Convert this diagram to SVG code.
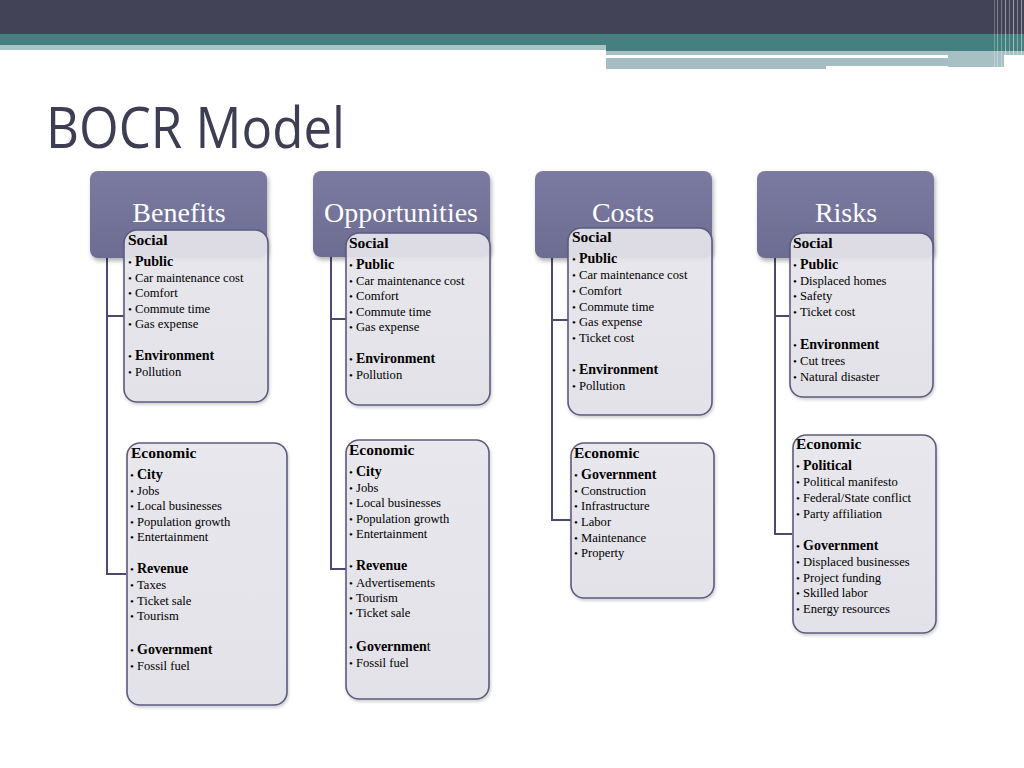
<svg xmlns="http://www.w3.org/2000/svg" width="1024" height="768" viewBox="0 0 1024 768">
<defs>
<linearGradient id="hg" x1="0" y1="0" x2="0" y2="1"><stop offset="0" stop-color="#7b7aa1"/><stop offset="1" stop-color="#6d6c92"/></linearGradient>
<linearGradient id="cg" x1="0" y1="0" x2="0" y2="1"><stop offset="0" stop-color="#e9e8ee"/><stop offset="1" stop-color="#e3e2e9"/></linearGradient>
<filter id="sh" x="-10%" y="-10%" width="130%" height="140%"><feDropShadow dx="1.5" dy="3" stdDeviation="2" flood-color="#000" flood-opacity="0.3"/></filter>
<filter id="sh2" x="-10%" y="-10%" width="130%" height="130%"><feDropShadow dx="1" dy="2" stdDeviation="1.5" flood-color="#000" flood-opacity="0.2"/></filter>
</defs>
<style>
.hd{fill:url(#hg);filter:url(#sh)}
.ht{font-family:"Liberation Serif",serif;font-size:28px;fill:#fff;text-anchor:middle}
.cb{fill:url(#cg);fill-opacity:0.9;stroke:#5c5b80;stroke-width:1.6;filter:url(#sh2)}
.sec{font-family:"Liberation Serif",serif;font-size:15.5px;font-weight:bold;fill:#000}
.t{font-family:"Liberation Serif",serif;font-size:12.6px;fill:#000}
.h{font-family:"Liberation Serif",serif;font-size:14px;font-weight:bold;fill:#000}
.b{font-size:11px;font-weight:normal}
.con{fill:none;stroke:#4b4a6e;stroke-width:2}
.ttl{font-family:"Open Sans","DejaVu Sans",sans-serif;font-size:56px;fill:#3e3e52}
</style>
<rect width="1024" height="768" fill="#fff"/>
<g id="banner">
<rect x="0" y="0" width="1024" height="34" fill="#434357"/>
<rect x="0" y="34" width="606" height="11" fill="#44807f"/>
<rect x="606" y="34" width="418" height="17" fill="#44807f"/>
<rect x="0" y="45" width="606" height="5" fill="#a9c5c6"/>
<rect x="606" y="51" width="418" height="4" fill="#a7c0c4"/>
<rect x="606" y="55" width="342" height="3" fill="#ffffff"/>
<rect x="948" y="55" width="56" height="12" fill="#a7c0c4"/>
<rect x="606" y="58" width="220" height="11" fill="#a6bdc4"/>
<rect x="826" y="58" width="122" height="8" fill="#a6bdc4"/>
<g stroke="#ffffff" stroke-width="1">
<line x1="994.5" y1="0" x2="994.5" y2="68" stroke-opacity="0.25"/>
<line x1="997.5" y1="0" x2="997.5" y2="68" stroke-opacity="0.35"/>
<line x1="1001.5" y1="0" x2="1001.5" y2="68" stroke-opacity="0.3"/>
<line x1="1005.5" y1="0" x2="1005.5" y2="68" stroke-opacity="0.45"/>
<line x1="1009.5" y1="0" x2="1009.5" y2="68" stroke-opacity="0.3"/>
<line x1="1013.5" y1="0" x2="1013.5" y2="68" stroke-opacity="0.5"/>
<line x1="1017.5" y1="0" x2="1017.5" y2="68" stroke-opacity="0.35"/>
<line x1="1021.5" y1="0" x2="1021.5" y2="68" stroke-opacity="0.45"/>
</g>
</g>
<text id="title" class="ttl" x="46" y="148" textLength="299" lengthAdjust="spacingAndGlyphs">BOCR Model</text>

<g id="connectors">
<path class="con" d="M107,258 V574 H126 M107,316 H124"/>
<path class="con" d="M331,257 V569 H346 M331,319 H346"/>
<path class="con" d="M552,258 V520 H571 M552,320 H568"/>
<path class="con" d="M775,258 V534 H792 M775,316 H789"/>
</g>

<g id="benefits">
<rect class="hd" x="90" y="171" width="177" height="87" rx="8"/>
<text class="ht" x="179" y="222">Benefits</text>
</g>
<g id="opportunities">
<rect class="hd" x="313" y="171" width="177" height="86" rx="8"/>
<text class="ht" x="401" y="222">Opportunities</text>
</g>
<g id="costs">
<rect class="hd" x="535" y="171" width="177" height="87" rx="8"/>
<text class="ht" x="623" y="222">Costs</text>
</g>
<g id="risks">
<rect class="hd" x="757" y="171" width="177" height="87" rx="8"/>
<text class="ht" x="846" y="222">Risks</text>
</g>

<g id="benefits-social">
<rect class="cb" x="124" y="230" width="144" height="172" rx="13"/>
<text class="sec" x="128" y="245">Social</text>
<text class="h" x="128" y="266"><tspan class="b">•</tspan><tspan x="135">Public</tspan></text>
<text class="t" x="128" y="282"><tspan class="b">•</tspan><tspan x="135">Car maintenance cost</tspan></text>
<text class="t" x="128" y="297"><tspan class="b">•</tspan><tspan x="135">Comfort</tspan></text>
<text class="t" x="128" y="313"><tspan class="b">•</tspan><tspan x="135">Commute time</tspan></text>
<text class="t" x="128" y="328"><tspan class="b">•</tspan><tspan x="135">Gas expense</tspan></text>
<text class="h" x="128" y="360"><tspan class="b">•</tspan><tspan x="135">Environment</tspan></text>
<text class="t" x="128" y="376"><tspan class="b">•</tspan><tspan x="135">Pollution</tspan></text>
</g>
<g id="benefits-economic">
<rect class="cb" x="127" y="443" width="160" height="262" rx="13"/>
<text class="sec" x="131" y="458">Economic</text>
<text class="h" x="130" y="479"><tspan class="b">•</tspan><tspan x="137">City</tspan></text>
<text class="t" x="130" y="495"><tspan class="b">•</tspan><tspan x="137">Jobs</tspan></text>
<text class="t" x="130" y="510"><tspan class="b">•</tspan><tspan x="137">Local businesses</tspan></text>
<text class="t" x="130" y="526"><tspan class="b">•</tspan><tspan x="137">Population growth</tspan></text>
<text class="t" x="130" y="541"><tspan class="b">•</tspan><tspan x="137">Entertainment</tspan></text>
<text class="h" x="130" y="573"><tspan class="b">•</tspan><tspan x="137">Revenue</tspan></text>
<text class="t" x="130" y="589"><tspan class="b">•</tspan><tspan x="137">Taxes</tspan></text>
<text class="t" x="130" y="605"><tspan class="b">•</tspan><tspan x="137">Ticket sale</tspan></text>
<text class="t" x="130" y="620"><tspan class="b">•</tspan><tspan x="137">Tourism</tspan></text>
<text class="h" x="130" y="654"><tspan class="b">•</tspan><tspan x="137">Government</tspan></text>
<text class="t" x="130" y="670"><tspan class="b">•</tspan><tspan x="137">Fossil fuel</tspan></text>
</g>

<g id="opportunities-social">
<rect class="cb" x="346" y="233" width="144" height="172" rx="13"/>
<text class="sec" x="349" y="248">Social</text>
<text class="h" x="349" y="269"><tspan class="b">•</tspan><tspan x="356">Public</tspan></text>
<text class="t" x="349" y="285"><tspan class="b">•</tspan><tspan x="356">Car maintenance cost</tspan></text>
<text class="t" x="349" y="300"><tspan class="b">•</tspan><tspan x="356">Comfort</tspan></text>
<text class="t" x="349" y="316"><tspan class="b">•</tspan><tspan x="356">Commute time</tspan></text>
<text class="t" x="349" y="331"><tspan class="b">•</tspan><tspan x="356">Gas expense</tspan></text>
<text class="h" x="349" y="363"><tspan class="b">•</tspan><tspan x="356">Environment</tspan></text>
<text class="t" x="349" y="379"><tspan class="b">•</tspan><tspan x="356">Pollution</tspan></text>
</g>
<g id="opportunities-economic">
<rect class="cb" x="346" y="440" width="143" height="259" rx="13"/>
<text class="sec" x="349" y="455">Economic</text>
<text class="h" x="349" y="476"><tspan class="b">•</tspan><tspan x="356">City</tspan></text>
<text class="t" x="349" y="492"><tspan class="b">•</tspan><tspan x="356">Jobs</tspan></text>
<text class="t" x="349" y="507"><tspan class="b">•</tspan><tspan x="356">Local businesses</tspan></text>
<text class="t" x="349" y="523"><tspan class="b">•</tspan><tspan x="356">Population growth</tspan></text>
<text class="t" x="349" y="538"><tspan class="b">•</tspan><tspan x="356">Entertainment</tspan></text>
<text class="h" x="349" y="570"><tspan class="b">•</tspan><tspan x="356">Revenue</tspan></text>
<text class="t" x="349" y="587"><tspan class="b">•</tspan><tspan x="356">Advertisements</tspan></text>
<text class="t" x="349" y="602"><tspan class="b">•</tspan><tspan x="356">Tourism</tspan></text>
<text class="t" x="349" y="617"><tspan class="b">•</tspan><tspan x="356">Ticket sale</tspan></text>
<text class="h" x="349" y="651"><tspan class="b">•</tspan><tspan x="356">Governmen</tspan><tspan style="font-weight:normal">t</tspan></text>
<text class="t" x="349" y="667"><tspan class="b">•</tspan><tspan x="356">Fossil fuel</tspan></text>
</g>

<g id="costs-social">
<rect class="cb" x="568" y="228" width="144" height="187" rx="13"/>
<text class="sec" x="572" y="242">Social</text>
<text class="h" x="572" y="263"><tspan class="b">•</tspan><tspan x="579">Public</tspan></text>
<text class="t" x="572" y="279"><tspan class="b">•</tspan><tspan x="579">Car maintenance cost</tspan></text>
<text class="t" x="572" y="295"><tspan class="b">•</tspan><tspan x="579">Comfort</tspan></text>
<text class="t" x="572" y="311"><tspan class="b">•</tspan><tspan x="579">Commute time</tspan></text>
<text class="t" x="572" y="326"><tspan class="b">•</tspan><tspan x="579">Gas expense</tspan></text>
<text class="t" x="572" y="342"><tspan class="b">•</tspan><tspan x="579">Ticket cost</tspan></text>
<text class="h" x="572" y="374"><tspan class="b">•</tspan><tspan x="579">Environment</tspan></text>
<text class="t" x="572" y="390"><tspan class="b">•</tspan><tspan x="579">Pollution</tspan></text>
</g>
<g id="costs-economic">
<rect class="cb" x="571" y="443" width="143" height="155" rx="13"/>
<text class="sec" x="574" y="458">Economic</text>
<text class="h" x="574" y="479"><tspan class="b">•</tspan><tspan x="581">Government</tspan></text>
<text class="t" x="574" y="495"><tspan class="b">•</tspan><tspan x="581">Construction</tspan></text>
<text class="t" x="574" y="510"><tspan class="b">•</tspan><tspan x="581">Infrastructure</tspan></text>
<text class="t" x="574" y="526"><tspan class="b">•</tspan><tspan x="581">Labor</tspan></text>
<text class="t" x="574" y="542"><tspan class="b">•</tspan><tspan x="581">Maintenance</tspan></text>
<text class="t" x="574" y="557"><tspan class="b">•</tspan><tspan x="581">Property</tspan></text>
</g>

<g id="risks-social">
<rect class="cb" x="790" y="233" width="143" height="164" rx="13"/>
<text class="sec" x="793" y="248">Social</text>
<text class="h" x="793" y="269"><tspan class="b">•</tspan><tspan x="800">Public</tspan></text>
<text class="t" x="793" y="285"><tspan class="b">•</tspan><tspan x="800">Displaced homes</tspan></text>
<text class="t" x="793" y="300"><tspan class="b">•</tspan><tspan x="800">Safety</tspan></text>
<text class="t" x="793" y="316"><tspan class="b">•</tspan><tspan x="800">Ticket cost</tspan></text>
<text class="h" x="793" y="349"><tspan class="b">•</tspan><tspan x="800">Environment</tspan></text>
<text class="t" x="793" y="365"><tspan class="b">•</tspan><tspan x="800">Cut trees</tspan></text>
<text class="t" x="793" y="381"><tspan class="b">•</tspan><tspan x="800">Natural disaster</tspan></text>
</g>
<g id="risks-economic">
<rect class="cb" x="793" y="435" width="143" height="198" rx="13"/>
<text class="sec" x="796" y="449">Economic</text>
<text class="h" x="796" y="470"><tspan class="b">•</tspan><tspan x="803">Political</tspan></text>
<text class="t" x="796" y="486"><tspan class="b">•</tspan><tspan x="803">Political manifesto</tspan></text>
<text class="t" x="796" y="502"><tspan class="b">•</tspan><tspan x="803">Federal/State conflict</tspan></text>
<text class="t" x="796" y="518"><tspan class="b">•</tspan><tspan x="803">Party affiliation</tspan></text>
<text class="h" x="796" y="550"><tspan class="b">•</tspan><tspan x="803">Government</tspan></text>
<text class="t" x="796" y="566"><tspan class="b">•</tspan><tspan x="803">Displaced businesses</tspan></text>
<text class="t" x="796" y="582"><tspan class="b">•</tspan><tspan x="803">Project funding</tspan></text>
<text class="t" x="796" y="597"><tspan class="b">•</tspan><tspan x="803">Skilled labor</tspan></text>
<text class="t" x="796" y="613"><tspan class="b">•</tspan><tspan x="803">Energy resources</tspan></text>
</g>
</svg>
